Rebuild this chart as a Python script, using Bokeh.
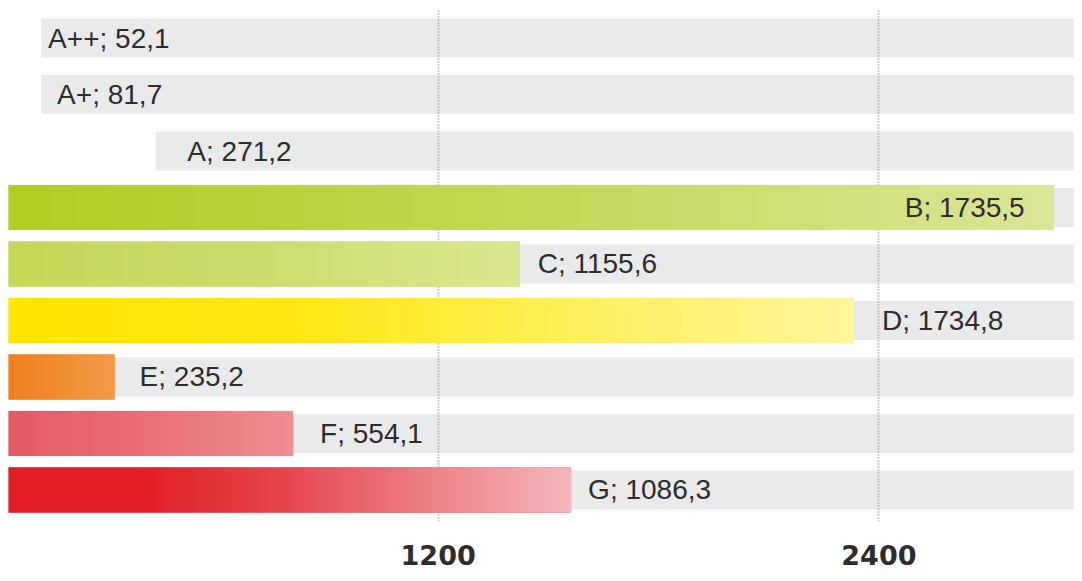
import numpy as np
from bokeh.plotting import figure
from bokeh.models import ColumnDataSource, FixedTicker, Range1d
from bokeh.core.properties import value
from bokeh.embed import file_html
from bokeh.resources import INLINE

# ---------------- data ----------------
classes = ["A++", "A+", "A", "B", "C", "D", "E", "F", "G"]
values = [52.1, 81.7, 271.2, 1735.5, 1155.6, 1734.8, 235.2, 554.1, 1086.3]
# drawn bar extents on the axis scale (as they appear in the picture)
bar_lengths = [119, 119, 430, 2876, 1422, 2332, 319, 805, 1562]
tick_values = [0, 1200, 2400]
tick_labels = ["0", "1200", "2400"]

# ---------------- styles ----------------
gradients = [
    [(0, "#ffffff"), (1, "#ffffff")],
    [(0, "#ffffff"), (1, "#ffffff")],
    [(0, "#ffffff"), (1, "#ffffff")],
    [(0, "#b2cc22"), (0.15, "#b6cf2e"), (0.6, "#c8dc62"), (1, "#dbe697")],
    [(0, "#c6d757"), (0.5, "#cddd6c"), (1, "#dbe68f")],
    [(0, "#ffe600"), (0.35, "#ffe814"), (0.7, "#fff060"), (1, "#fff69c")],
    [(0, "#ef7d19"), (1, "#f29b4a")],
    [(0, "#e55a62"), (0.4, "#e86a70"), (1, "#ef8e93")],
    [(0, "#e31d25"), (0.25, "#e31e26"), (0.5, "#e6464d"), (1, "#f4b9bd")],
]
label_offsets_px = [7, 16, 32, -149, 18, 28, 25, 27, 17]
TEXT = "#2d2d2d"
GREY = "#e9eaea"
BAR_H = 0.80
BG_H = 0.69


def hex_rgb(h):
    h = h.lstrip("#")
    return [int(h[i:i + 2], 16) for i in (0, 2, 4)]


def gradient_image(stops, n=512):
    t = np.linspace(0, 1, n)
    pos = [s[0] for s in stops]
    cols = np.array([hex_rgb(s[1]) for s in stops], dtype=float)
    img = np.empty((2, n), dtype=np.uint32)
    view = img.view(dtype=np.uint8).reshape((2, n, 4))
    for c in range(3):
        view[:, :, c] = np.interp(t, pos, cols[:, c]).astype(np.uint8)
    view[:, :, 3] = 255
    return img


n = len(classes)
ys = [n - 1 - i for i in range(n)]
labels = [f"{c}; {str(v).replace('.', ',')}" for c, v in zip(classes, values)]

src = ColumnDataSource(dict(
    y=ys,
    length=bar_lengths,
    label=labels,
    xoff=label_offsets_px,
    color=[g[0][1] for g in gradients],
    ybot=[y - BAR_H / 2 for y in ys],
    img=[gradient_image(g) for g in gradients],
    zero=[0] * n,
    dh=[BAR_H] * n,
))

p = figure(
    width=1074, height=573,
    x_range=Range1d(30.2, 2932.5),
    y_range=Range1d(-0.558, 8.5225),
    output_backend="svg", toolbar_location=None,
    y_axis_location=None,
    min_border_left=8, min_border_right=0, min_border_top=8, min_border_bottom=52,
)
p.outline_line_color = None
p.background_fill_color = "white"
p.border_fill_color = "white"

# grey background rows
p.hbar(y="y", left="zero", right=3200, height=BG_H, source=src,
       fill_color=GREY, line_color=None, level="image")

# value bars (solid base + gradient on top)
p.hbar(y="y", left="zero", right="length", height=BAR_H, source=src,
       fill_color="color", line_color=None)
p.image_rgba(image="img", x="zero", y="ybot", dw="length", dh="dh", source=src)

# labels
p.text(x="length", y="y", text="label", x_offset="xoff", source=src,
       text_baseline="middle", text_align="left",
       text_font=value("Liberation Sans"), text_font_size="28px",
       text_color=TEXT, level="overlay")

# axis
ax = p.xaxis[0]
ax.ticker = FixedTicker(ticks=tick_values)
ax.major_label_overrides = {v: l for v, l in zip(tick_values, tick_labels)}
ax.axis_line_color = None
ax.major_tick_line_color = None
ax.minor_tick_line_color = None
ax.major_label_standoff = 17
ax.major_label_text_font = "DejaVu Sans"
ax.major_label_text_font_style = "bold"
ax.major_label_text_font_size = "27px"
ax.major_label_text_color = TEXT

p.ygrid.visible = False
g = p.xgrid[0]
g.grid_line_color = "#9c9c9c"
g.grid_line_dash = "1 2"
g.grid_line_width = 2
g.level = "underlay"

open("out.html", "w").write(file_html(p, INLINE))
